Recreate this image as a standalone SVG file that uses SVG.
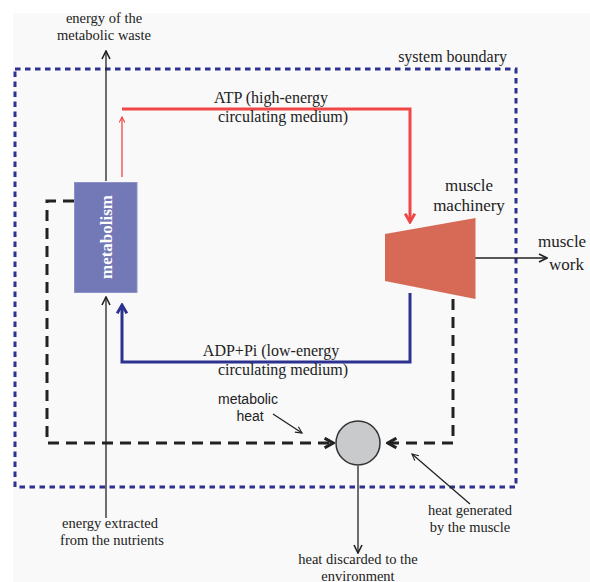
<svg xmlns="http://www.w3.org/2000/svg" width="590" height="582" viewBox="0 0 590 582">
<defs>
<style>
.thin{stroke:#222;stroke-width:1.3;fill:none;}
.dash{stroke:#222;stroke-width:3;fill:none;stroke-dasharray:11 7;}
</style>
<marker id="ah" viewBox="0 0 10 10" refX="9" refY="5" markerWidth="10" markerHeight="10" markerUnits="userSpaceOnUse" orient="auto">
<path d="M1,1 L9,5 L1,9" fill="none" stroke="#222" stroke-width="1.6"/>
</marker>
<marker id="ahs" viewBox="0 0 10 10" refX="9" refY="5" markerWidth="8" markerHeight="8" markerUnits="userSpaceOnUse" orient="auto">
<path d="M1,1 L9,5 L1,9" fill="none" stroke="#222" stroke-width="1.4"/>
</marker>
<marker id="ahr" viewBox="0 0 10 10" refX="9" refY="5" markerWidth="7" markerHeight="7" markerUnits="userSpaceOnUse" orient="auto">
<path d="M1,1 L9,5 L1,9" fill="none" stroke="#f04646" stroke-width="1.6"/>
</marker>
<marker id="ahR" viewBox="0 0 10 10" refX="8" refY="5" markerWidth="12" markerHeight="12" markerUnits="userSpaceOnUse" orient="auto">
<path d="M1,1 L8,5 L1,9" fill="none" stroke="#f04646" stroke-width="2.4"/>
</marker>
<marker id="ahB" viewBox="0 0 10 10" refX="8" refY="5" markerWidth="12" markerHeight="12" markerUnits="userSpaceOnUse" orient="auto">
<path d="M1,1 L8,5 L1,9" fill="none" stroke="#2d3290" stroke-width="2.4"/>
</marker>
<marker id="ahD" viewBox="0 0 10 10" refX="8" refY="5" markerWidth="12" markerHeight="12" markerUnits="userSpaceOnUse" orient="auto">
<path d="M1,1 L8,5 L1,9" fill="none" stroke="#222" stroke-width="2.6"/>
</marker>
</defs>
<rect x="0" y="0" width="590" height="582" fill="#ffffff"/>
<rect x="13" y="13" width="577" height="569" fill="#f9f9f9"/>

<g id="boundary">
<rect x="15" y="69" width="501" height="418" fill="none" stroke="#2d3290" stroke-width="3" stroke-dasharray="5.5 4.5"/>
<text x="507" y="62" text-anchor="end" font-family="Liberation Serif, DejaVu Serif, serif" font-size="16" fill="#222">system boundary</text>
</g>

<g id="connectors">
<line class="thin" x1="106" y1="181" x2="106" y2="51" marker-end="url(#ah)"/>
<line x1="122" y1="177" x2="122" y2="117" stroke="#f04646" stroke-width="1.3" marker-end="url(#ahr)"/>
<polyline points="122,109 410,109 410,222" fill="none" stroke="#f04646" stroke-width="3" marker-end="url(#ahR)"/>
<polyline points="410,293 410,362 122,362 122,305" fill="none" stroke="#2d3290" stroke-width="3" marker-end="url(#ahB)"/>
<line class="thin" x1="106" y1="518" x2="106" y2="297" marker-end="url(#ah)"/>
<polyline class="dash" points="74,201 47,201 47,443 333,443" marker-end="url(#ahD)"/>
<polyline class="dash" points="453,299 453,443 388,443" marker-end="url(#ahD)"/>
<line class="thin" x1="436" y1="258" x2="547" y2="258" marker-end="url(#ah)"/>
<line class="thin" x1="358" y1="466" x2="358" y2="553" marker-end="url(#ah)"/>
<line class="thin" x1="273" y1="414" x2="302" y2="433" marker-end="url(#ahs)"/>
<line class="thin" x1="470" y1="504" x2="412" y2="454" marker-end="url(#ahs)"/>
</g>

<g id="metabolism">
<rect x="74.5" y="182.5" width="62.5" height="110" fill="#7378b6" stroke="#8c92c8" stroke-width="1"/>
<text x="106" y="237" transform="rotate(-90 106 237)" text-anchor="middle" dominant-baseline="central" font-family="Liberation Serif, DejaVu Serif, serif" font-weight="bold" font-size="17" fill="#ffffff">metabolism</text>
</g>

<g id="muscle">
<polygon points="385,234 475.5,218 475.5,299 385,281" fill="#d66a56"/>
<g font-family="Liberation Serif, DejaVu Serif, serif" font-size="17" fill="#222" text-anchor="middle">
<text x="469" y="191">muscle</text>
<text x="469" y="211">machinery</text>
</g>
</g>

<g id="mixer">
<circle cx="358" cy="443" r="22" fill="#c8cacc" stroke="#333" stroke-width="1.5"/>
</g>

<g id="labels" font-family="Liberation Serif, DejaVu Serif, serif" font-size="14.5" fill="#222">
<text x="104" y="23" text-anchor="middle">energy of the</text>
<text x="104" y="39.5" text-anchor="middle">metabolic waste</text>
<text x="271" y="103" text-anchor="middle" font-size="16">ATP (high-energy</text>
<text x="283" y="122" text-anchor="middle" font-size="16">circulating medium)</text>
<text x="271" y="356" text-anchor="middle" font-size="16">ADP+Pi (low-energy</text>
<text x="283" y="375" text-anchor="middle" font-size="16">circulating medium)</text>
<text x="538" y="247" font-size="17">muscle</text>
<text x="549" y="270" font-size="17">work</text>
<text x="470" y="515" text-anchor="middle">heat generated</text>
<text x="470" y="531.5" text-anchor="middle">by the muscle</text>
<text x="358" y="564" text-anchor="middle">heat discarded to the</text>
<text x="358" y="580.5" text-anchor="middle">environment</text>
<text x="110" y="528" text-anchor="middle">energy extracted</text>
<text x="112" y="544.5" text-anchor="middle">from the nutrients</text>
</g>
<g id="heat-label" font-family="Liberation Sans, DejaVu Sans, sans-serif" font-size="14" fill="#222" text-anchor="middle">
<text x="248" y="404">metabolic</text>
<text x="250" y="420.5">heat</text>
</g>
</svg>
